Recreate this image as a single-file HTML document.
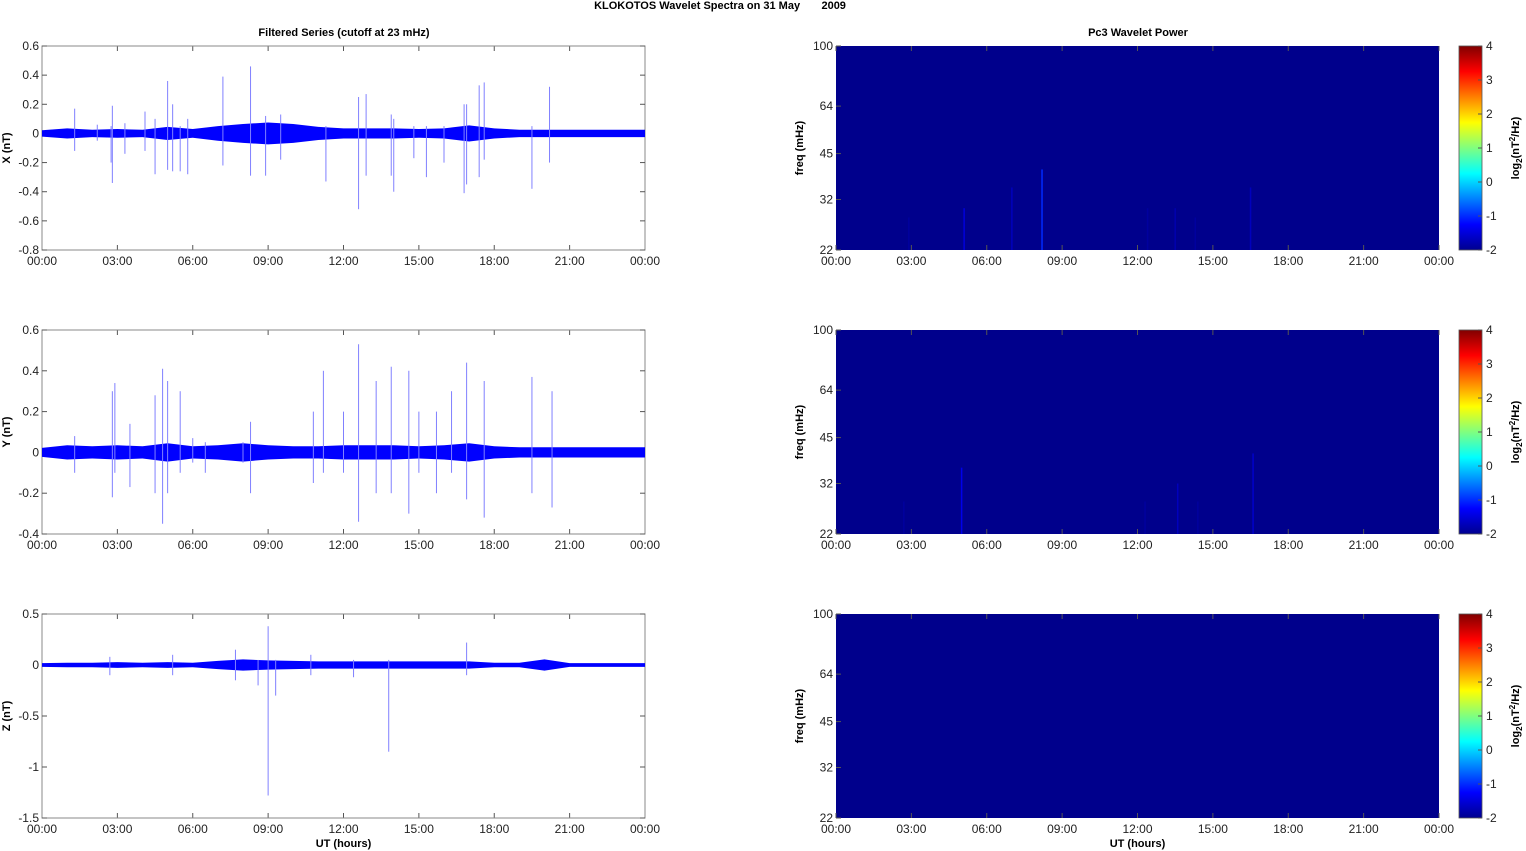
<!DOCTYPE html>
<html><head><meta charset="utf-8">
<style>
html,body{margin:0;padding:0;background:#fff;}
svg{display:block;font-family:"Liberation Sans",Arial,sans-serif;}
</style></head>
<body>
<svg id="fig" width="1526" height="851" viewBox="0 0 1526 851" xmlns="http://www.w3.org/2000/svg">
<defs>
<linearGradient id="jet" x1="0" y1="1" x2="0" y2="0">
<stop offset="0" stop-color="#00008f"/><stop offset="0.125" stop-color="#0000ff"/>
<stop offset="0.375" stop-color="#00ffff"/><stop offset="0.625" stop-color="#ffff00"/>
<stop offset="0.875" stop-color="#ff0000"/><stop offset="1" stop-color="#800000"/>
</linearGradient>
</defs>
<text x="720" y="9" font-size="11" font-weight="bold" text-anchor="middle" style="white-space:pre">KLOKOTOS Wavelet Spectra on 31 May       2009</text>
<text x="344" y="36" font-size="11" font-weight="bold" text-anchor="middle">Filtered Series (cutoff at 23 mHz)</text>
<text x="1138" y="36" font-size="11" font-weight="bold" text-anchor="middle">Pc3 Wavelet Power</text>
<g id="root"></g>
</svg>
<script>
// ---- data ----
const timeTicks = ["00:00","03:00","06:00","09:00","12:00","15:00","18:00","21:00","00:00"];
const xTicks = [0.6,0.4,0.2,0,-0.2,-0.4,-0.6,-0.8];
const yTicks = [0.6,0.4,0.2,0,-0.2,-0.4];
const zTicks = [0.5,0,-0.5,-1,-1.5];
const freqTicks = [100,64,45,32,22];
const cbTicks = [4,3,2,1,0,-1,-2];
// hourly noise envelope (nT), 0..24h
const xEnv = [0.022,0.035,0.025,0.03,0.025,0.045,0.03,0.05,0.065,0.075,0.065,0.045,0.035,0.035,0.035,0.03,0.035,0.055,0.035,0.025,0.025,0.025,0.025,0.025,0.025];
const yEnv = [0.022,0.035,0.03,0.035,0.03,0.045,0.03,0.035,0.045,0.035,0.03,0.03,0.035,0.035,0.035,0.03,0.035,0.045,0.03,0.025,0.025,0.025,0.025,0.025,0.025];
const zEnv = [0.018,0.022,0.022,0.028,0.022,0.028,0.022,0.04,0.055,0.045,0.04,0.035,0.035,0.035,0.035,0.035,0.035,0.035,0.022,0.022,0.055,0.018,0.018,0.018,0.018];
// spikes: time (h), max, min
const xSpikeT = [1.3,2.2,2.75,2.8,3.3,4.1,4.5,5.0,5.2,5.5,5.8,7.2,8.3,8.9,9.5,11.3,12.6,12.9,13.9,14.0,14.8,15.3,16.0,16.8,16.9,17.4,17.6,19.5,20.2];
const xSpikeHi = [0.17,0.06,0.05,0.19,0.07,0.15,0.1,0.36,0.2,0.05,0.1,0.39,0.46,0.12,0.13,0.05,0.25,0.27,0.13,0.1,0.05,0.05,0.05,0.2,0.2,0.33,0.35,0.05,0.32];
const xSpikeLo = [-0.12,-0.05,-0.2,-0.34,-0.14,-0.12,-0.28,-0.25,-0.26,-0.26,-0.28,-0.22,-0.29,-0.29,-0.18,-0.33,-0.52,-0.29,-0.29,-0.4,-0.17,-0.3,-0.2,-0.41,-0.35,-0.3,-0.18,-0.38,-0.2];
const ySpikeT = [1.3,2.8,2.9,3.5,4.5,4.8,5.0,5.5,6.0,6.5,8.0,8.3,10.8,11.2,12.0,12.6,13.3,13.9,14.6,15.0,15.7,16.3,16.9,17.6,19.5,20.3];
const ySpikeHi = [0.08,0.3,0.34,0.14,0.28,0.41,0.35,0.3,0.07,0.05,0.05,0.15,0.2,0.4,0.2,0.53,0.35,0.42,0.4,0.2,0.2,0.3,0.44,0.35,0.37,0.3];
const ySpikeLo = [-0.1,-0.22,-0.1,-0.17,-0.2,-0.35,-0.2,-0.1,-0.05,-0.1,-0.05,-0.2,-0.15,-0.1,-0.1,-0.34,-0.2,-0.2,-0.3,-0.1,-0.2,-0.1,-0.23,-0.32,-0.2,-0.27];
const zSpikeT = [2.7,5.2,7.7,8.6,9.0,9.3,10.7,12.4,13.8,16.9];
const zSpikeHi = [0.08,0.1,0.15,0.05,0.38,0.05,0.1,0.05,0.05,0.22];
const zSpikeLo = [-0.1,-0.1,-0.15,-0.2,-1.28,-0.3,-0.1,-0.12,-0.85,-0.1];
// wavelet streaks: time (h), top freq (mHz), intensity (log2)
const p1T = [2.9,5.1,7.0,8.2,12.4,13.5,14.3,16.5];
const p1F = [28,30,35,40,30,30,28,35];
const p1V = [-1.9,-1.5,-1.7,-1.0,-1.9,-1.8,-1.9,-1.7];
const p2T = [2.7,5.0,12.3,13.6,14.4,16.6];
const p2F = [28,36,28,32,28,40];
const p2V = [-1.9,-1.4,-1.9,-1.7,-1.9,-1.6];
const p3T = [];
const p3F = [];
const p3V = [];

const NS="http://www.w3.org/2000/svg";
const root=document.getElementById('root');
function mk(tag,attrs,parent){const e=document.createElementNS(NS,tag);for(const k in attrs)e.setAttribute(k,attrs[k]);(parent||root).appendChild(e);return e;}
const L=42,R=645,HL=836,HR=1439;
function jet(v){
  const t=(v+2)/6;const c=[[0,0,143],[0,0,255],[0,255,255],[255,255,0],[255,0,0],[128,0,0]];const s=[0,0.125,0.375,0.625,0.875,1];
  for(let i=0;i<5;i++){if(t<=s[i+1]){const f=(t-s[i])/(s[i+1]-s[i]);return 'rgb('+c[i].map((a,j)=>Math.round(a+(c[i+1][j]-a)*f)).join(',')+')';}}return 'rgb(128,0,0)';}

function timeAxis(g,x0,x1,yb,yt){
  const xs=h=>x0+(x1-x0)*h/24;
  timeTicks.forEach((lab,i)=>{const x=xs(i*3);
    const t=mk('text',{x:x,y:yb+15,'font-size':12,'text-anchor':'middle',fill:'#222'},g);t.textContent=lab;
    
    
    mk('line',{x1:x,x2:x,y1:yb,y2:yb-5,stroke:'#555','stroke-width':1},g);
    mk('line',{x1:x,x2:x,y1:yt,y2:yt+5,stroke:'#555','stroke-width':1},g);
  });
  return xs;
}

function series(name,top,bot,ymax,ymin,ticks,env,sT,sH,sL,label,xlabel){
  const g=mk('g',{});
  
  
  const ys=v=>top+(ymax-v)/(ymax-ymin)*(bot-top);
  const xs=timeAxis(g,L,R,bot,top);
  mk('rect',{x:L,y:top,width:R-L,height:bot-top,fill:'none',stroke:'#888','stroke-width':1},g);
  ticks.forEach(v=>{const y=ys(v);
    const t=mk('text',{x:L-3,y:y+4,'font-size':12,'text-anchor':'end',fill:'#222'},g);t.textContent=v;
    
    
    mk('line',{x1:L,x2:L+5,y1:y,y2:y,stroke:'#555'},g);mk('line',{x1:R,x2:R-5,y1:y,y2:y,stroke:'#555'},g);});
  let up=[],dn=[];
  env.forEach((a,i)=>{up.push(xs(i)+','+ys(a));dn.unshift(xs(i)+','+ys(-a));});
  const band=mk('polygon',{points:up.concat(dn).join(' '),fill:'#0000ff'},g);
  
  
  sT.forEach((t,i)=>{
    const l=mk('line',{x1:xs(t),x2:xs(t),y1:ys(sH[i]),y2:ys(sL[i]),stroke:'#8080ff','stroke-width':1},g);
    
    
  });
  const yl=mk('text',{x:0,y:0,'font-size':11,'font-weight':'bold','text-anchor':'middle',transform:'translate(10,'+((top+bot)/2)+') rotate(-90)'},g);yl.textContent=label;
  
  
  if(xlabel){const xl=mk('text',{x:(L+R)/2,y:bot+29,'font-size':11,'font-weight':'bold','text-anchor':'middle'},g);xl.textContent=xlabel;
    
    }
}

function heat(name,top,bot,T,F,V,xlabel){
  const g=mk('g',{});
  
  
  const fs=f=>bot-(Math.log(f)-Math.log(22))/(Math.log(100)-Math.log(22))*(bot-top);
  mk('rect',{x:HL,y:top,width:HR-HL,height:bot-top,fill:'#00008c'},g);
  const xs0=h=>HL+(HR-HL)*h/24;
  T.forEach((t,i)=>{
    const l=mk('line',{x1:xs0(t),x2:xs0(t),y1:fs(F[i]),y2:bot,stroke:jet(V[i]),'stroke-width':1.5},g);
    
    
  });
  timeAxis(g,HL,HR,bot,top);
  freqTicks.forEach(f=>{const y=fs(f);
    const t=mk('text',{x:HL-3,y:y+4,'font-size':12,'text-anchor':'end',fill:'#222'},g);t.textContent=f;
    
    
    mk('line',{x1:HL,x2:HL+5,y1:y,y2:y,stroke:'#555'},g);});
  const yl=mk('text',{x:0,y:0,'font-size':11,'font-weight':'bold','text-anchor':'middle',transform:'translate(803,'+((top+bot)/2)+') rotate(-90)'},g);yl.textContent='freq (mHz)';
  
  
  if(xlabel){const xl=mk('text',{x:(HL+HR)/2,y:bot+29,'font-size':11,'font-weight':'bold','text-anchor':'middle'},g);xl.textContent=xlabel;
    
    }
  const cb=mk('rect',{x:1459,y:top,width:23,height:bot-top,fill:'url(#jet)',stroke:'#555','stroke-width':0.8},g);
  
  
  cbTicks.forEach(v=>{const y=bot-(v+2)/6*(bot-top);
    const t=mk('text',{x:1486,y:y+4,'font-size':12,fill:'#222'},g);t.textContent=v;
    
    
    mk('line',{x1:1478,x2:1482,y1:y,y2:y,stroke:'#555'},g);});
  const cl=mk('text',{x:0,y:0,'font-size':11,'font-weight':'bold','text-anchor':'middle',transform:'translate(1519,'+((top+bot)/2)+') rotate(-90)'},g);
  cl.innerHTML='log<tspan font-size="8" dy="3">2</tspan><tspan dy="-3">(nT</tspan><tspan font-size="8" dy="-4">2</tspan><tspan dy="4">/Hz)</tspan>';
  
  
}

series('x-component',46,250,0.6,-0.8,xTicks,xEnv,xSpikeT,xSpikeHi,xSpikeLo,'X (nT)',null);
series('y-component',330,534,0.6,-0.4,yTicks,yEnv,ySpikeT,ySpikeHi,ySpikeLo,'Y (nT)',null);
series('z-component',614,818,0.5,-1.5,zTicks,zEnv,zSpikeT,zSpikeHi,zSpikeLo,'Z (nT)','UT (hours)');
heat('x-power',46,250,p1T,p1F,p1V,null);
heat('y-power',330,534,p2T,p2F,p2V,null);
heat('z-power',614,818,p3T,p3F,p3V,'UT (hours)');
</script>
</body></html>
